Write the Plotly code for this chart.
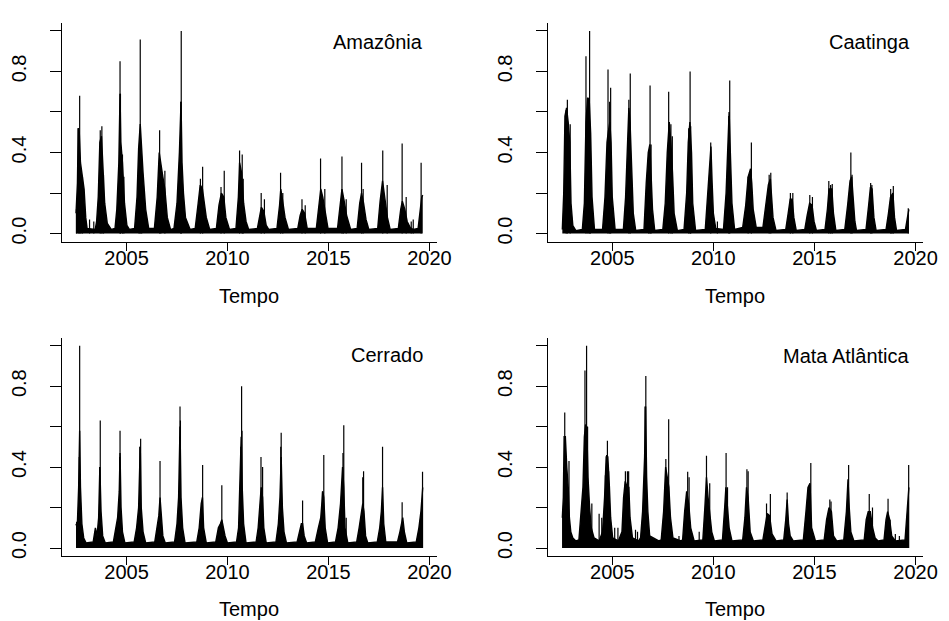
import plotly.graph_objects as go

# ---------------- data ----------------
# Envelope of the dense daily series (time in decimal years, value)
amz_env_t = [2002.50, 2002.57, 2002.61, 2002.66, 2002.72, 2002.80, 2002.90, 2002.98, 2003.05, 2003.45,
             2003.52, 2003.60, 2003.68, 2003.76, 2003.84, 2003.92, 2004.05, 2004.25,
             2004.43, 2004.52, 2004.62, 2004.68, 2004.72, 2004.80, 2004.90, 2005.02, 2005.15,
             2005.40, 2005.52, 2005.60, 2005.68, 2005.74, 2005.82, 2005.95, 2006.10,
             2006.38, 2006.52, 2006.62, 2006.68, 2006.80, 2006.90, 2007.02, 2007.18,
             2007.35, 2007.50, 2007.62, 2007.70, 2007.75, 2007.82, 2007.92, 2008.15,
             2008.40, 2008.55, 2008.65, 2008.76, 2008.85, 2008.95, 2009.12,
             2009.45, 2009.58, 2009.70, 2009.82, 2009.92, 2010.10,
             2010.42, 2010.54, 2010.60, 2010.70, 2010.80, 2010.92, 2011.05,
             2011.48, 2011.60, 2011.68, 2011.80, 2011.92, 2012.05,
             2012.45, 2012.58, 2012.64, 2012.72, 2012.85, 2013.02,
             2013.48, 2013.60, 2013.70, 2013.82, 2013.95,
             2014.40, 2014.54, 2014.62, 2014.72, 2014.84, 2014.98,
             2015.45, 2015.58, 2015.67, 2015.78, 2015.90, 2016.10,
             2016.42, 2016.55, 2016.64, 2016.74, 2016.86, 2017.00,
             2017.44, 2017.56, 2017.68, 2017.80, 2017.92, 2018.06,
             2018.46, 2018.58, 2018.66, 2018.78, 2018.90, 2019.05, 2019.20,
             2019.44, 2019.55, 2019.62, 2019.67]
amz_env_v = [0.10, 0.25, 0.52, 0.50, 0.35, 0.30, 0.22, 0.08, 0.025, 0.02,
             0.06, 0.18, 0.45, 0.48, 0.30, 0.15, 0.05, 0.02,
             0.025, 0.12, 0.35, 0.69, 0.45, 0.35, 0.15, 0.04, 0.02,
             0.025, 0.18, 0.42, 0.54, 0.40, 0.30, 0.12, 0.025,
             0.025, 0.18, 0.40, 0.35, 0.28, 0.22, 0.08, 0.02,
             0.025, 0.15, 0.40, 0.65, 0.35, 0.20, 0.08, 0.02,
             0.025, 0.15, 0.24, 0.22, 0.15, 0.08, 0.02,
             0.025, 0.14, 0.20, 0.18, 0.08, 0.02,
             0.025, 0.18, 0.35, 0.30, 0.15, 0.06, 0.02,
             0.025, 0.10, 0.13, 0.11, 0.04, 0.02,
             0.025, 0.14, 0.22, 0.17, 0.08, 0.02,
             0.025, 0.09, 0.12, 0.10, 0.025,
             0.025, 0.14, 0.22, 0.18, 0.10, 0.025,
             0.025, 0.13, 0.22, 0.16, 0.09, 0.02,
             0.025, 0.15, 0.20, 0.15, 0.07, 0.02,
             0.025, 0.16, 0.26, 0.17, 0.08, 0.02,
             0.025, 0.12, 0.16, 0.12, 0.06, 0.03, 0.02,
             0.025, 0.12, 0.18, 0.19]
# Individual daily spikes standing above the dense mass
amz_spk_t = [2002.52, 2002.61, 2002.68, 2002.74, 2002.82, 2003.17, 2003.38, 2003.70, 2003.78, 2003.86,
             2004.68, 2004.70, 2004.80, 2004.87, 2005.62, 2005.68, 2005.75, 2006.64, 2006.70, 2006.90,
             2007.69, 2007.71, 2008.66, 2008.77, 2009.68, 2009.84, 2010.60, 2010.73, 2010.78,
             2011.67, 2011.83, 2012.63, 2012.74, 2013.69, 2013.85, 2014.61, 2014.82, 2015.67,
             2015.74, 2015.88, 2016.64, 2016.72, 2017.69, 2017.91, 2018.65, 2018.85, 2019.10,
             2019.20, 2019.59]
amz_spk_v = [0.12, 0.52, 0.68, 0.30, 0.28, 0.07, 0.06, 0.51, 0.53, 0.29,
             0.85, 0.69, 0.39, 0.28, 0.42, 0.957, 0.33, 0.51, 0.30, 0.31,
             0.65, 1.00, 0.27, 0.33, 0.23, 0.31, 0.41, 0.39, 0.27,
             0.20, 0.17, 0.30, 0.20, 0.17, 0.14, 0.37, 0.22, 0.38,
             0.18, 0.17, 0.35, 0.22, 0.41, 0.24, 0.445, 0.18, 0.06,
             0.07, 0.35]

caa_env_t = [2002.53, 2002.60, 2002.66, 2002.74, 2002.82, 2002.90, 2002.96, 2003.05, 2003.20,
             2003.52, 2003.62, 2003.70, 2003.78, 2003.86, 2003.93, 2004.00, 2004.12,
             2004.52, 2004.64, 2004.74, 2004.80, 2004.88, 2004.94, 2005.00, 2005.14,
             2005.55, 2005.66, 2005.76, 2005.82, 2005.88, 2005.95, 2006.04, 2006.16,
             2006.57, 2006.68, 2006.78, 2006.86, 2006.93, 2006.99, 2007.10,
             2007.50, 2007.62, 2007.72, 2007.82, 2007.90, 2007.98, 2008.06, 2008.22,
             2008.55, 2008.68, 2008.76, 2008.84, 2008.92, 2008.98, 2009.12,
             2009.60, 2009.72, 2009.82, 2009.88, 2009.94, 2010.00, 2010.12,
             2010.50, 2010.63, 2010.72, 2010.78, 2010.84, 2010.92, 2011.05,
             2011.45, 2011.60, 2011.72, 2011.84, 2011.90, 2011.97, 2012.12,
             2012.45, 2012.60, 2012.72, 2012.82, 2012.88, 2012.95, 2013.10,
             2013.58, 2013.70, 2013.80, 2013.90, 2013.98, 2014.10,
             2014.52, 2014.64, 2014.76, 2014.88, 2014.98, 2015.10,
             2015.52, 2015.64, 2015.72, 2015.86, 2015.94, 2016.06,
             2016.50, 2016.64, 2016.76, 2016.84, 2016.92, 2017.00, 2017.08,
             2017.55, 2017.68, 2017.77, 2017.85, 2017.94, 2018.05,
             2018.54, 2018.66, 2018.76, 2018.88, 2018.96, 2019.06,
             2019.50, 2019.60, 2019.67]
caa_env_v = [0.02, 0.20, 0.58, 0.62, 0.55, 0.45, 0.15, 0.04, 0.015,
             0.02, 0.15, 0.55, 0.67, 0.66, 0.50, 0.18, 0.02,
             0.02, 0.18, 0.45, 0.50, 0.55, 0.45, 0.18, 0.02,
             0.02, 0.18, 0.45, 0.62, 0.55, 0.35, 0.10, 0.015,
             0.02, 0.25, 0.40, 0.44, 0.30, 0.12, 0.015,
             0.02, 0.15, 0.40, 0.55, 0.45, 0.30, 0.10, 0.015,
             0.02, 0.20, 0.45, 0.55, 0.40, 0.15, 0.015,
             0.02, 0.20, 0.38, 0.43, 0.25, 0.10, 0.025,
             0.02, 0.20, 0.45, 0.60, 0.40, 0.15, 0.02,
             0.03, 0.14, 0.28, 0.32, 0.25, 0.12, 0.03,
             0.03, 0.14, 0.24, 0.27, 0.20, 0.08, 0.015,
             0.02, 0.10, 0.17, 0.17, 0.08, 0.015,
             0.02, 0.09, 0.15, 0.14, 0.06, 0.015,
             0.02, 0.12, 0.22, 0.22, 0.10, 0.015,
             0.02, 0.14, 0.26, 0.28, 0.15, 0.06, 0.015,
             0.02, 0.14, 0.23, 0.22, 0.08, 0.015,
             0.02, 0.10, 0.18, 0.20, 0.08, 0.015,
             0.02, 0.08, 0.12]
caa_spk_t = [2002.72, 2002.78, 2002.92, 2003.70, 2003.80, 2003.88, 2003.92, 2004.79, 2004.87, 2004.92,
             2005.82, 2005.89, 2006.80, 2006.87, 2006.92, 2007.79, 2007.90, 2007.97, 2008.78, 2008.85,
             2008.88, 2009.87, 2010.20, 2010.76, 2010.81, 2011.72, 2011.88, 2012.76, 2012.84,
             2013.81, 2013.93, 2014.77, 2014.90, 2015.71, 2015.80, 2015.88, 2016.80, 2016.86,
             2017.78, 2017.84, 2018.77, 2018.83, 2018.90, 2019.64]
caa_spk_v = [0.61, 0.66, 0.54, 0.875, 0.65, 1.00, 0.50, 0.81, 0.65, 0.72,
             0.66, 0.79, 0.40, 0.73, 0.44, 0.70, 0.54, 0.48, 0.52, 0.80,
             0.53, 0.45, 0.06, 0.58, 0.755, 0.28, 0.45, 0.29, 0.30,
             0.20, 0.20, 0.19, 0.18, 0.26, 0.24, 0.245, 0.40, 0.29,
             0.25, 0.24, 0.22, 0.19, 0.235, 0.125]

cer_env_t = [2002.50, 2002.56, 2002.63, 2002.68, 2002.72, 2002.79, 2002.88, 2003.00,
             2003.35, 2003.46, 2003.54, 2003.62, 2003.68, 2003.74, 2003.82, 2003.95,
             2004.35, 2004.45, 2004.56, 2004.64, 2004.68, 2004.73, 2004.80, 2004.92,
             2005.38, 2005.50, 2005.60, 2005.68, 2005.73, 2005.82, 2005.95,
             2006.40, 2006.50, 2006.60, 2006.66, 2006.72, 2006.80, 2006.92,
             2007.38, 2007.50, 2007.58, 2007.65, 2007.70, 2007.78, 2007.90,
             2008.48, 2008.60, 2008.70, 2008.76, 2008.82, 2008.95,
             2009.42, 2009.55, 2009.65, 2009.72, 2009.80, 2009.88, 2010.00,
             2010.45, 2010.55, 2010.62, 2010.68, 2010.73, 2010.80, 2010.92,
             2011.42, 2011.52, 2011.60, 2011.67, 2011.74, 2011.80, 2011.92,
             2012.40, 2012.52, 2012.60, 2012.66, 2012.72, 2012.80, 2012.92,
             2013.45, 2013.58, 2013.66, 2013.72, 2013.80, 2013.92,
             2014.35, 2014.50, 2014.62, 2014.72, 2014.77, 2014.84, 2014.96,
             2015.35, 2015.48, 2015.60, 2015.70, 2015.76, 2015.82, 2015.96,
             2016.40, 2016.52, 2016.62, 2016.70, 2016.76, 2016.84, 2016.95,
             2017.42, 2017.54, 2017.62, 2017.68, 2017.74, 2017.84,
             2018.42, 2018.54, 2018.62, 2018.68, 2018.76, 2018.88,
             2019.35, 2019.48, 2019.58, 2019.65, 2019.67]
cer_env_v = [0.12, 0.10, 0.30, 0.58, 0.30, 0.12, 0.05, 0.025,
             0.03, 0.10, 0.06, 0.15, 0.40, 0.18, 0.06, 0.025,
             0.03, 0.09, 0.15, 0.28, 0.47, 0.20, 0.08, 0.025,
             0.03, 0.10, 0.20, 0.50, 0.20, 0.08, 0.025,
             0.03, 0.10, 0.16, 0.25, 0.14, 0.06, 0.025,
             0.03, 0.12, 0.25, 0.60, 0.25, 0.10, 0.025,
             0.03, 0.10, 0.22, 0.25, 0.10, 0.025,
             0.03, 0.10, 0.12, 0.14, 0.10, 0.06, 0.025,
             0.03, 0.10, 0.30, 0.55, 0.30, 0.12, 0.025,
             0.03, 0.10, 0.22, 0.30, 0.25, 0.10, 0.025,
             0.03, 0.12, 0.25, 0.45, 0.20, 0.08, 0.025,
             0.03, 0.08, 0.12, 0.12, 0.06, 0.025,
             0.03, 0.10, 0.15, 0.28, 0.25, 0.10, 0.025,
             0.03, 0.10, 0.22, 0.40, 0.30, 0.10, 0.025,
             0.03, 0.10, 0.18, 0.22, 0.18, 0.06, 0.025,
             0.03, 0.10, 0.18, 0.30, 0.12, 0.03,
             0.03, 0.08, 0.12, 0.15, 0.08, 0.025,
             0.03, 0.10, 0.18, 0.28, 0.30]
cer_spk_t = [2002.53, 2002.66, 2002.68, 2003.67, 2003.70, 2004.66, 2004.68, 2005.66, 2005.70, 2006.66,
             2007.63, 2007.65, 2007.67, 2008.77, 2009.72, 2010.66, 2010.70, 2010.72, 2011.66, 2011.74,
             2012.64, 2012.66, 2013.72, 2014.70, 2014.77, 2015.72, 2015.76, 2015.88, 2016.70, 2016.74,
             2017.68, 2018.65, 2019.66]
cer_spk_v = [0.13, 0.45, 1.00, 0.40, 0.63, 0.45, 0.58, 0.50, 0.54, 0.43,
             0.55, 0.70, 0.63, 0.41, 0.31, 0.50, 0.80, 0.58, 0.45, 0.40,
             0.50, 0.57, 0.235, 0.28, 0.46, 0.47, 0.607, 0.15, 0.35, 0.38,
             0.50, 0.226, 0.377]

mat_env_t = [2002.53, 2002.58, 2002.62, 2002.68, 2002.75, 2002.82, 2002.88, 2002.95, 2003.05, 2003.20,
             2003.35, 2003.45, 2003.55, 2003.62, 2003.68, 2003.74, 2003.80, 2003.88, 2003.96, 2004.10, 2004.35,
             2004.52, 2004.62, 2004.70, 2004.78, 2004.86, 2004.92, 2005.02, 2005.30,
             2005.48, 2005.56, 2005.64, 2005.74, 2005.82, 2005.88, 2006.00, 2006.30,
             2006.40, 2006.50, 2006.60, 2006.65, 2006.70, 2006.76, 2006.85, 2007.30,
             2007.42, 2007.54, 2007.64, 2007.72, 2007.80, 2007.88, 2008.00, 2008.40,
             2008.48, 2008.58, 2008.68, 2008.78, 2008.88, 2009.05,
             2009.48, 2009.58, 2009.66, 2009.74, 2009.84, 2009.92, 2010.05,
             2010.45, 2010.56, 2010.62, 2010.70, 2010.78, 2010.92,
             2011.45, 2011.56, 2011.64, 2011.72, 2011.82, 2011.98,
             2012.45, 2012.58, 2012.66, 2012.78, 2012.90, 2013.10,
             2013.48, 2013.58, 2013.65, 2013.72, 2013.80, 2013.95,
             2014.45, 2014.58, 2014.68, 2014.78, 2014.86, 2015.05,
             2015.48, 2015.60, 2015.72, 2015.84, 2015.94, 2016.10,
             2016.45, 2016.58, 2016.66, 2016.72, 2016.80, 2016.95,
             2017.46, 2017.56, 2017.66, 2017.76, 2017.88, 2018.00, 2018.15,
             2018.44, 2018.54, 2018.62, 2018.72, 2018.82, 2019.00,
             2019.48, 2019.58, 2019.64, 2019.67]
mat_env_v = [0.15, 0.25, 0.55, 0.55, 0.40, 0.30, 0.15, 0.08, 0.05, 0.035,
             0.04, 0.15, 0.30, 0.55, 0.61, 0.60, 0.35, 0.20, 0.10, 0.05, 0.035,
             0.08, 0.25, 0.45, 0.45, 0.30, 0.15, 0.05, 0.035,
             0.08, 0.25, 0.33, 0.30, 0.30, 0.15, 0.05, 0.035,
             0.05, 0.18, 0.45, 0.70, 0.35, 0.18, 0.06, 0.035,
             0.04, 0.18, 0.40, 0.35, 0.30, 0.15, 0.05, 0.035,
             0.04, 0.18, 0.28, 0.22, 0.10, 0.035,
             0.04, 0.20, 0.35, 0.25, 0.15, 0.08, 0.035,
             0.04, 0.20, 0.30, 0.20, 0.10, 0.035,
             0.04, 0.15, 0.30, 0.25, 0.08, 0.035,
             0.04, 0.12, 0.17, 0.16, 0.07, 0.035,
             0.04, 0.14, 0.24, 0.12, 0.06, 0.035,
             0.04, 0.18, 0.30, 0.32, 0.10, 0.035,
             0.04, 0.14, 0.20, 0.18, 0.06, 0.035,
             0.04, 0.18, 0.34, 0.20, 0.08, 0.035,
             0.04, 0.14, 0.18, 0.18, 0.10, 0.05, 0.035,
             0.04, 0.14, 0.18, 0.14, 0.06, 0.035,
             0.04, 0.18, 0.28, 0.30]
mat_spk_t = [2002.55, 2002.65, 2002.82, 2002.86, 2003.50, 2003.65, 2003.73, 2003.78, 2003.99, 2004.35,
             2004.48, 2004.66, 2004.72, 2004.76, 2004.82, 2005.12, 2005.28, 2005.65, 2005.75, 2005.81,
             2006.15, 2006.25, 2006.62, 2006.66, 2007.65, 2007.79, 2008.30, 2008.73, 2008.80, 2009.30,
             2009.66, 2009.82, 2010.63, 2010.70, 2011.66, 2011.72, 2012.63, 2012.82, 2013.65, 2014.72,
             2014.82, 2015.76, 2015.82, 2016.69, 2017.71, 2017.87, 2018.64, 2018.74, 2019.00, 2019.20,
             2019.66]
mat_spk_v = [0.16, 0.67, 0.30, 0.43, 0.20, 0.877, 1.00, 0.60, 0.22, 0.17,
             0.15, 0.36, 0.46, 0.53, 0.38, 0.10, 0.10, 0.38, 0.38, 0.38,
             0.09, 0.08, 0.70, 0.85, 0.44, 0.636, 0.06, 0.377, 0.35, 0.08,
             0.456, 0.32, 0.47, 0.30, 0.39, 0.38, 0.22, 0.267, 0.275, 0.30,
             0.42, 0.24, 0.23, 0.41, 0.267, 0.20, 0.243, 0.14, 0.07, 0.06,
             0.41]

panel_names = ["Amazônia", "Caatinga", "Cerrado", "Mata Atlântica"]
x_label = "Tempo"
x_tick_vals = [2005, 2010, 2015, 2020]
y_tick_vals = [0.0, 0.2, 0.4, 0.6, 0.8, 1.0]
y_tick_text = ["0.0", "", "0.4", "", "0.8", ""]

series = [(amz_env_t, amz_env_v, amz_spk_t, amz_spk_v),
          (caa_env_t, caa_env_v, caa_spk_t, caa_spk_v),
          (cer_env_t, cer_env_v, cer_spk_t, cer_spk_v),
          (mat_env_t, mat_env_v, mat_spk_t, mat_spk_v)]

# ---------------- layout geometry ----------------
W, H = 949, 621
FONT = "Liberation Sans, Arial, Helvetica, sans-serif"
FS = 20
# pixel boxes of plotting regions: (left, right, top, bottom)
boxes = [(54, 435, 14.85, 234.85),
         (548, 929.5, 14.85, 234.85),
         (54, 435, 331.2, 550.8),
         (548, 929.5, 331.2, 550.8)]
label_pos = [(423, 34), (918, 34), (423, 349), (918, 350)]
title_y = [289, 289, 604, 604]

fig = go.Figure()
layout = dict(width=W, height=H, margin=dict(l=0, r=0, t=0, b=0),
              paper_bgcolor="white", plot_bgcolor="white", showlegend=False,
              font=dict(family=FONT, size=FS, color="black"))
annotations = []

for i, (et, ev, st, sv) in enumerate(series):
    n = "" if i == 0 else str(i + 1)
    xa, ya = "x" + n, "y" + n
    fig.add_trace(go.Scatter(x=et, y=ev, mode="lines", fill="tozeroy",
                             fillcolor="black", line=dict(color="black", width=1.4),
                             xaxis=xa, yaxis=ya, hoverinfo="skip"))
    sx, sy = [], []
    for t, v in zip(st, sv):
        sx += [t, t, None]
        sy += [0, v, None]
    fig.add_trace(go.Scatter(x=sx, y=sy, mode="lines",
                             line=dict(color="black", width=1.2),
                             xaxis=xa, yaxis=ya, hoverinfo="skip"))
    l, r, t, b = boxes[i]
    layout["xaxis" + n] = dict(domain=[l / W, r / W], range=[2001.81, 2020.36],
                               anchor=ya, showline=True, linecolor="black", linewidth=1,
                               ticks="outside", ticklen=8, tickcolor="black", tickwidth=1,
                               tickvals=x_tick_vals, ticktext=[str(v) for v in x_tick_vals],
                               ticklabelstandoff=-10,
                               showgrid=False, zeroline=False,
                               tickfont=dict(family=FONT, size=FS, color="black"))
    layout["yaxis" + n] = dict(domain=[1 - b / H, 1 - t / H], range=[-0.04, 1.04],
                               anchor=xa, showline=True, linecolor="black", linewidth=1,
                               ticks="outside", ticklen=11, tickcolor="black", tickwidth=1,
                               tickvals=y_tick_vals, ticktext=y_tick_text, tickangle=-90,
                               ticklabelstandoff=16,
                               showgrid=False, zeroline=False,
                               tickfont=dict(family=FONT, size=FS, color="black"))
    lx, ly = label_pos[i]
    annotations.append(dict(text=panel_names[i], x=lx / W, y=1 - ly / H, xref="paper", yref="paper",
                            xanchor="right", yanchor="middle", showarrow=False,
                            font=dict(family=FONT, size=FS, color="black")))
    annotations.append(dict(text=x_label, x=((l + r) / 2) / W, y=1 - title_y[i] / H,
                            xref="paper", yref="paper", xanchor="center", yanchor="middle",
                            showarrow=False, font=dict(family=FONT, size=FS, color="black")))

layout["annotations"] = annotations
fig.update_layout(**layout)
fig.write_html("out.html")
